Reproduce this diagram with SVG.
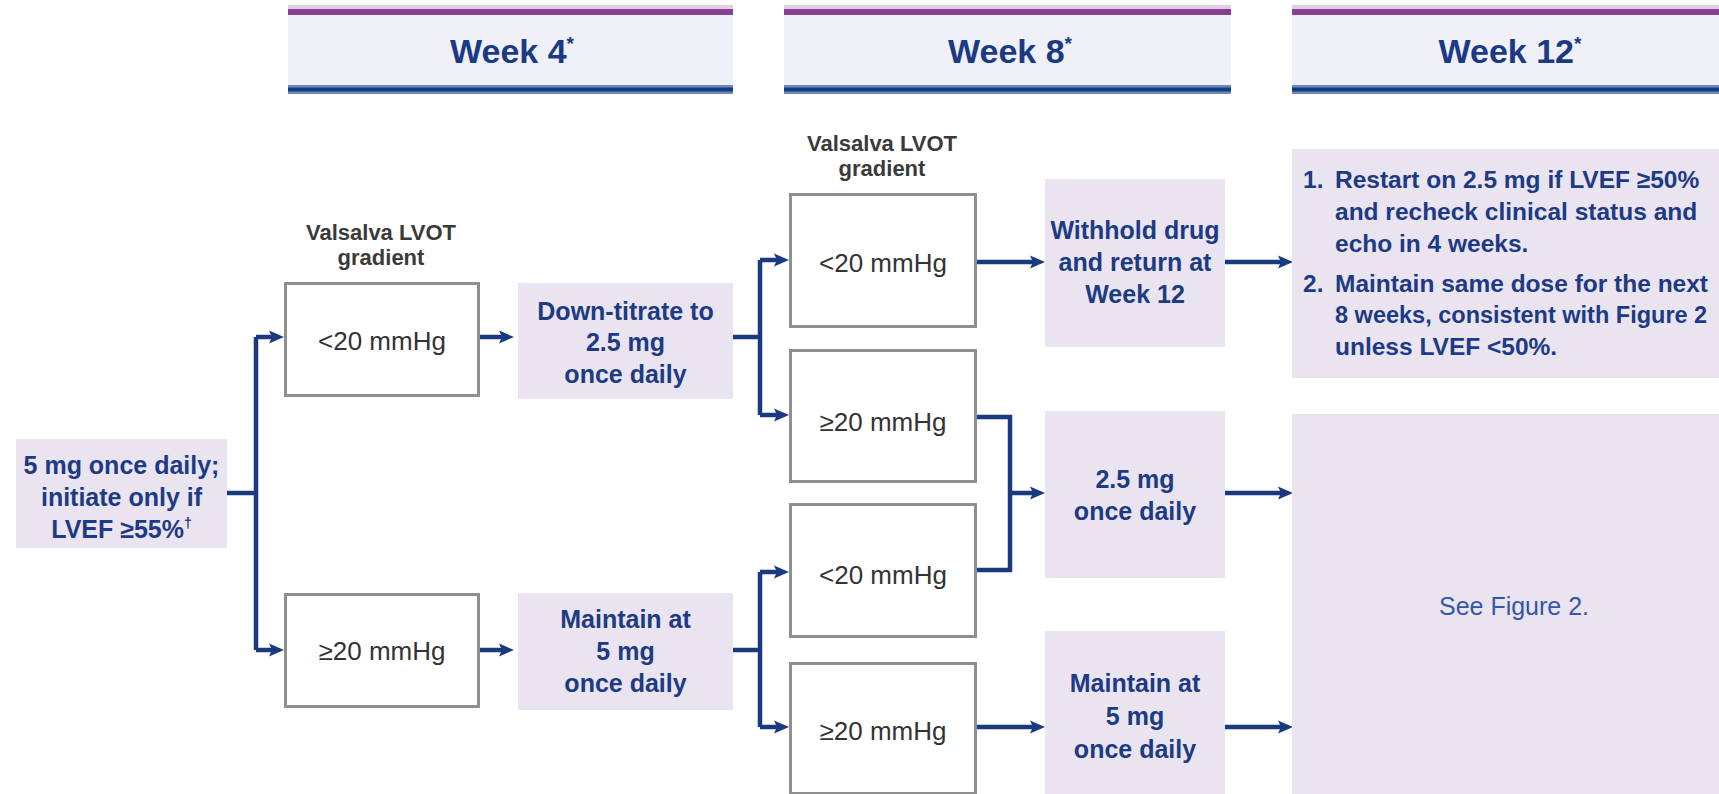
<svg xmlns="http://www.w3.org/2000/svg" width="1719" height="794" viewBox="0 0 1719 794">
<style>
.hdrtxt{font-family:"Liberation Sans",Arial,sans-serif;font-weight:bold;font-size:34px;fill:#1b3a84;text-anchor:middle}
.sup{font-size:19px}
.hbody{fill:#eff0f8}
.hpurp{fill:#85418f}
.hpurpl{fill:#e2cfe6}
.hblue{fill:#6f88b4}
.hblued{fill:#123c86}
.node{fill:#e9e4f0}
.gbox{fill:#ffffff;stroke:#8f8f8f;stroke-width:3}
.btxt{font-family:"Liberation Sans",Arial,sans-serif;font-weight:bold;font-size:25px;fill:#1d3a84;text-anchor:middle}
.gtxt{font-family:"Liberation Sans",Arial,sans-serif;font-size:26px;fill:#333333;text-anchor:middle}
.lbl{font-family:"Liberation Sans",Arial,sans-serif;font-weight:bold;font-size:22px;fill:#3a3a3a;text-anchor:middle}
.ltxt{font-family:"Liberation Sans",Arial,sans-serif;font-weight:bold;font-size:24.5px;fill:#1d3a84}
.ltxt.tight{font-size:23.5px}
.see{font-family:"Liberation Sans",Arial,sans-serif;font-size:25px;fill:#3656a6;text-anchor:middle}
.conn{fill:none;stroke:#1a3a80;stroke-width:4.5}
</style>
<defs>
<marker id="ah" markerUnits="userSpaceOnUse" viewBox="0 0 16 16" refX="8" refY="8" markerWidth="16" markerHeight="16" orient="auto">
<path d="M1,1.5 L16,8 L1,14.5 L4,8 Z" fill="#1a3a80"/>
</marker>
</defs>

<g id="header-week4">
<rect class="hpurpl" x="288" y="5" width="445" height="4"/>
<rect class="hpurp" x="288" y="9" width="445" height="6"/>
<rect class="hbody" x="288" y="15" width="445" height="70"/>
<rect class="hblue" x="288" y="85" width="445" height="9"/>
<rect class="hblued" x="288" y="87.5" width="445" height="4"/>
<text class="hdrtxt" x="512" y="63">Week 4<tspan class="sup" dy="-13">*</tspan></text>
</g>
<g id="header-week8">
<rect class="hpurpl" x="784" y="5" width="447" height="4"/>
<rect class="hpurp" x="784" y="9" width="447" height="6"/>
<rect class="hbody" x="784" y="15" width="447" height="70"/>
<rect class="hblue" x="784" y="85" width="447" height="9"/>
<rect class="hblued" x="784" y="87.5" width="447" height="4"/>
<text class="hdrtxt" x="1010" y="63">Week 8<tspan class="sup" dy="-13">*</tspan></text>
</g>
<g id="header-week12">
<rect class="hpurpl" x="1292" y="5" width="427" height="4"/>
<rect class="hpurp" x="1292" y="9" width="427" height="6"/>
<rect class="hbody" x="1292" y="15" width="427" height="70"/>
<rect class="hblue" x="1292" y="85" width="427" height="9"/>
<rect class="hblued" x="1292" y="87.5" width="427" height="4"/>
<text class="hdrtxt" x="1510" y="63">Week 12<tspan class="sup" dy="-13">*</tspan></text>
</g>

<g id="connectors">
<path class="conn" d="M227,493 H256"/>
<path class="conn" d="M256,337 V650"/>
<path class="conn" d="M256,337 H276" marker-end="url(#ah)"/>
<path class="conn" d="M256,650 H276" marker-end="url(#ah)"/>
<path class="conn" d="M480,337 H506" marker-end="url(#ah)"/>
<path class="conn" d="M480,650 H506" marker-end="url(#ah)"/>
<path class="conn" d="M733,337 H760"/>
<path class="conn" d="M760,260 V415"/>
<path class="conn" d="M760,260 H781" marker-end="url(#ah)"/>
<path class="conn" d="M760,415 H781" marker-end="url(#ah)"/>
<path class="conn" d="M733,650 H760"/>
<path class="conn" d="M760,572 V727"/>
<path class="conn" d="M760,572 H781" marker-end="url(#ah)"/>
<path class="conn" d="M760,727 H781" marker-end="url(#ah)"/>
<path class="conn" d="M977,262 H1037" marker-end="url(#ah)"/>
<path class="conn" d="M1225,262 H1285" marker-end="url(#ah)"/>
<path class="conn" d="M977,417 H1010 V570 H977"/>
<path class="conn" d="M1010,493 H1037" marker-end="url(#ah)"/>
<path class="conn" d="M1225,493 H1285" marker-end="url(#ah)"/>
<path class="conn" d="M977,727 H1037" marker-end="url(#ah)"/>
<path class="conn" d="M1225,727 H1285" marker-end="url(#ah)"/>
</g>

<g id="start">
<rect class="node" x="16" y="439" width="211" height="109"/>
<text class="btxt" x="121.5" y="474">5 mg once daily;</text>
<text class="btxt" x="121.5" y="506">initiate only if</text>
<text class="btxt" x="121.5" y="538">LVEF ≥55%<tspan font-size="14" dy="-10">†</tspan></text>
</g>

<g id="label-w4">
<text class="lbl" x="381" y="240">Valsalva LVOT</text>
<text class="lbl" x="381" y="265">gradient</text>
</g>
<g id="w4-lt20">
<rect class="gbox" x="285.5" y="283.5" width="193" height="112"/>
<text class="gtxt" x="382" y="350">&lt;20 mmHg</text>
</g>
<g id="w4-ge20">
<rect class="gbox" x="285.5" y="594.5" width="193" height="112"/>
<text class="gtxt" x="382" y="660">≥20 mmHg</text>
</g>
<g id="down-titrate">
<rect class="node" x="518" y="283" width="215" height="116"/>
<text class="btxt" x="625.5" y="320">Down-titrate to</text>
<text class="btxt" x="625.5" y="351">2.5 mg</text>
<text class="btxt" x="625.5" y="383">once daily</text>
</g>
<g id="maintain-w4">
<rect class="node" x="518" y="593" width="215" height="117"/>
<text class="btxt" x="625.5" y="628">Maintain at</text>
<text class="btxt" x="625.5" y="660">5 mg</text>
<text class="btxt" x="625.5" y="692">once daily</text>
</g>

<g id="label-w8">
<text class="lbl" x="882" y="151">Valsalva LVOT</text>
<text class="lbl" x="882" y="176">gradient</text>
</g>
<g id="w8-lt20-a">
<rect class="gbox" x="790.5" y="194.5" width="185" height="132"/>
<text class="gtxt" x="883" y="272">&lt;20 mmHg</text>
</g>
<g id="w8-ge20-a">
<rect class="gbox" x="790.5" y="350.5" width="185" height="131"/>
<text class="gtxt" x="883" y="431">≥20 mmHg</text>
</g>
<g id="w8-lt20-b">
<rect class="gbox" x="790.5" y="504.5" width="185" height="132"/>
<text class="gtxt" x="883" y="584">&lt;20 mmHg</text>
</g>
<g id="w8-ge20-b">
<rect class="gbox" x="790.5" y="663.5" width="185" height="130"/>
<text class="gtxt" x="883" y="740">≥20 mmHg</text>
</g>

<g id="withhold">
<rect class="node" x="1045" y="179" width="180" height="168"/>
<text class="btxt" x="1135" y="239">Withhold drug</text>
<text class="btxt" x="1135" y="271">and return at</text>
<text class="btxt" x="1135" y="303">Week 12</text>
</g>
<g id="dose-2-5">
<rect class="node" x="1045" y="411" width="180" height="167"/>
<text class="btxt" x="1135" y="488">2.5 mg</text>
<text class="btxt" x="1135" y="520">once daily</text>
</g>
<g id="maintain-w8">
<rect class="node" x="1045" y="631" width="180" height="163"/>
<text class="btxt" x="1135" y="692">Maintain at</text>
<text class="btxt" x="1135" y="725">5 mg</text>
<text class="btxt" x="1135" y="758">once daily</text>
</g>

<g id="w12-restart">
<rect class="node" x="1292" y="149" width="427" height="229"/>
<text class="ltxt" x="1303" y="188">1.</text>
<text class="ltxt" x="1335" y="188">Restart on 2.5 mg if LVEF ≥50%</text>
<text class="ltxt" x="1335" y="220">and recheck clinical status and</text>
<text class="ltxt" x="1335" y="252">echo in 4 weeks.</text>
<text class="ltxt" x="1303" y="292">2.</text>
<text class="ltxt" x="1335" y="292">Maintain same dose for the next</text>
<text class="ltxt tight" x="1335" y="323">8 weeks, consistent with Figure 2</text>
<text class="ltxt" x="1335" y="355">unless LVEF &lt;50%.</text>
</g>
<g id="w12-see">
<rect class="node" x="1292" y="414" width="427" height="380"/>
<text class="see" x="1514" y="615">See Figure 2.</text>
</g>
</svg>
